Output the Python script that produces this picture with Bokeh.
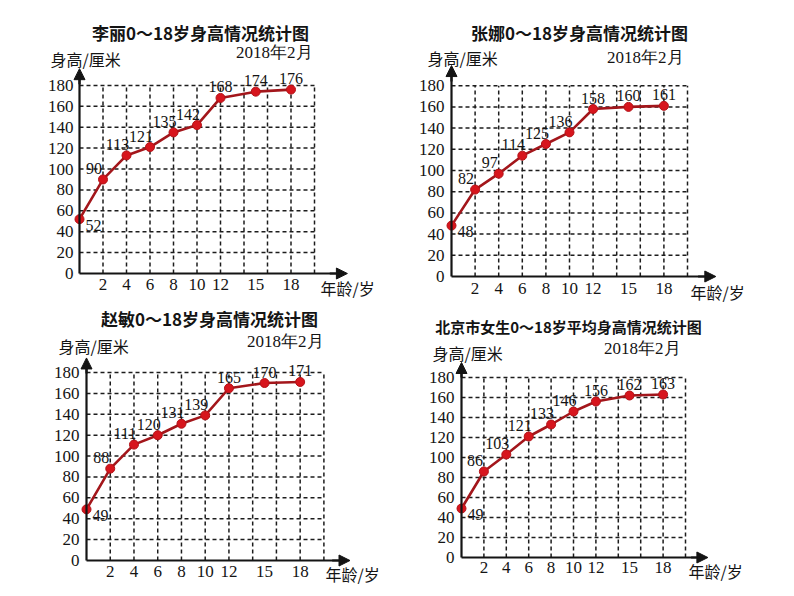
from bokeh.plotting import figure
from bokeh.models import Range1d, LinearAxis, FixedTicker, Label, Arrow, NormalHead, ColumnDataSource
from bokeh.layouts import column, row
from bokeh.embed import file_html
from bokeh.resources import INLINE
from bokeh.core.properties import value

# ---------------- data ----------------
ages = [0, 2, 4, 6, 8, 10, 12, 15, 18]
x_tick_values = [2, 4, 6, 8, 10, 12, 15, 18]
y_tick_values = [0, 20, 40, 60, 80, 100, 120, 140, 160, 180]
grid_x = [2, 4, 6, 8, 10, 12, 14, 16, 18, 20]
grid_y = [20, 40, 60, 80, 100, 120, 140, 160, 180]

heights_lili = [52, 90, 113, 121, 135, 142, 168, 174, 176]
heights_zhangna = [48, 82, 97, 114, 125, 136, 158, 160, 161]
heights_zhaomin = [49, 88, 111, 120, 131, 139, 165, 170, 171]
heights_beijing = [49, 86, 103, 121, 133, 146, 156, 162, 163]

title_lili = "李丽0～18岁身高情况统计图"
title_zhangna = "张娜0～18岁身高情况统计图"
title_zhaomin = "赵敏0～18岁身高情况统计图"
title_beijing = "北京市女生0～18岁平均身高情况统计图"
date_text = "2018年2月"
y_title = "身高/厘米"
x_title = "年龄/岁"

# ---------------- layout / style ----------------
W = 388
H_TOP, H_BOT = 304, 282
CJK = "Noto Sans CJK SC"
SERIF = "Liberation Serif"
INK = "#141414"

# fx, fy: where each figure starts on the page; ox, oy: page position of the origin
panels = [
    dict(title=title_lili, heights=heights_lili, fx=0, fy=0, fh=H_TOP, ox=79, oy=273, sx=11.75, sy=1.045,
         xtip=22.8, ytip=196, tc=(200, 32), ts=17, dr=(312, 52), yl=(50, 58), xl=(320, 287),
         xso=5, yso=6),
    dict(title=title_zhangna, heights=heights_zhangna, fx=W, fy=0, fh=H_TOP, ox=451, oy=276, sx=11.8, sy=1.06,
         xtip=22.4, ytip=199, tc=(579, 32), ts=17, dr=(683, 57), yl=(427, 57), xl=(690, 291),
         xso=6, yso=7),
    dict(title=title_zhaomin, heights=heights_zhaomin, fx=0, fy=H_TOP, fh=H_BOT, ox=86, oy=560, sx=11.87, sy=1.044,
         xtip=22.2, ytip=194, tc=(209, 318), ts=17, dr=(323, 341), yl=(58, 345), xl=(325, 573),
         xso=5, yso=7),
    dict(title=title_beijing, heights=heights_beijing, fx=W, fy=H_TOP, fh=H_BOT, ox=461, oy=557, sx=11.2, sy=1.0,
         xtip=22.0, ytip=195, tc=(568, 326), ts=15, dr=(680, 348), yl=(432, 352), xl=(688, 570),
         xso=4, yso=7),
]


def make_panel(c):
    fx, fy, fh, ox, oy, sx, sy = c["fx"], c["fy"], c["fh"], c["ox"], c["oy"], c["sx"], c["sy"]
    X = lambda px: (px - ox) / sx
    Y = lambda py: (oy - py) / sy
    p = figure(width=W, height=fh,
               x_range=Range1d(X(fx), X(fx + W)), y_range=Range1d(Y(fy + fh), Y(fy)),
               toolbar_location=None, output_backend="svg", min_border=0,
               x_axis_location=None, y_axis_location=None, outline_line_color=None)
    p.grid.visible = False
    p.background_fill_color = "white"
    p.border_fill_color = "white"

    # dashed grid limited to the chart area
    gx_top = max(grid_y)
    gy_right = max(grid_x)
    p.segment(x0=grid_x, y0=[0] * len(grid_x), x1=grid_x, y1=[gx_top] * len(grid_x),
              line_color="#1c1c1c", line_width=1.5, line_dash="4 3")
    p.segment(x0=[0] * len(grid_y), y0=grid_y, x1=[gy_right] * len(grid_y), y1=grid_y,
              line_color="#1c1c1c", line_width=1.5, line_dash="4 3")

    axis_style = dict(axis_line_width=2.2, axis_line_color=INK,
                      major_tick_line_color=None, minor_tick_line_color=None,
                      major_tick_in=0, major_tick_out=0,
                      major_label_text_font=SERIF, major_label_text_font_size="17px",
                      major_label_text_color=INK)
    xaxis = LinearAxis(fixed_location=0, ticker=FixedTicker(ticks=x_tick_values),
                       bounds=(0, c["xtip"] - 0.5), major_label_standoff=c["xso"], **axis_style)
    yaxis = LinearAxis(fixed_location=0, ticker=FixedTicker(ticks=y_tick_values),
                       bounds=(0, c["ytip"] - 5), major_label_standoff=c["yso"], **axis_style)
    p.add_layout(xaxis, "below")
    p.add_layout(yaxis, "left")

    head = dict(size=11, fill_color=INK, line_color=INK, line_width=1)
    p.add_layout(Arrow(end=NormalHead(**head), x_start=c["xtip"] - 1.5, y_start=0,
                       x_end=c["xtip"], y_end=0, line_width=2.2, line_color=INK))
    p.add_layout(Arrow(end=NormalHead(**head), x_start=0, y_start=c["ytip"] - 15,
                       x_end=0, y_end=c["ytip"], line_width=2.2, line_color=INK))

    hs = c["heights"]
    dx = [14 if i == 0 else (-9 if a <= 10 else 0) for i, a in enumerate(ages)]
    dy = [6 if i == 0 else -11 for i in range(len(ages))]
    src = ColumnDataSource(dict(x=ages, y=hs, label=[str(h) for h in hs], dx=dx, dy=dy))
    p.line("x", "y", source=src, line_color="#a3161b", line_width=2.6)
    p.scatter("x", "y", source=src, size=9, fill_color="#d7151d", line_color="#b31217", line_width=1)
    p.text("x", "y", text="label", x_offset="dx", y_offset="dy", source=src,
           text_font=value(SERIF), text_font_size="16px", text_align="center",
           text_baseline="middle", text_color=INK)

    p.add_layout(Label(x=X(c["tc"][0]), y=Y(c["tc"][1]), text=c["title"], text_font=CJK,
                       text_font_size=f'{c["ts"]}px', text_font_style="bold",
                       text_align="center", text_baseline="middle", text_color=INK))
    p.add_layout(Label(x=X(c["dr"][0]), y=Y(c["dr"][1]), text=date_text, text_font=SERIF,
                       text_font_size="17px", text_align="right", text_baseline="middle",
                       text_color=INK))
    p.add_layout(Label(x=X(c["yl"][0]), y=Y(c["yl"][1]), text=y_title, text_font=CJK,
                       text_font_size="16px", text_align="left", text_baseline="middle",
                       text_color=INK))
    p.add_layout(Label(x=X(c["xl"][0]), y=Y(c["xl"][1]), text=x_title, text_font=CJK,
                       text_font_size="16px", text_align="left", text_baseline="middle",
                       text_color=INK))
    return p


figs = [make_panel(c) for c in panels]
layout = column(row(figs[0], figs[1]), row(figs[2], figs[3]))

open("out.html", "w").write(file_html(layout, INLINE))
